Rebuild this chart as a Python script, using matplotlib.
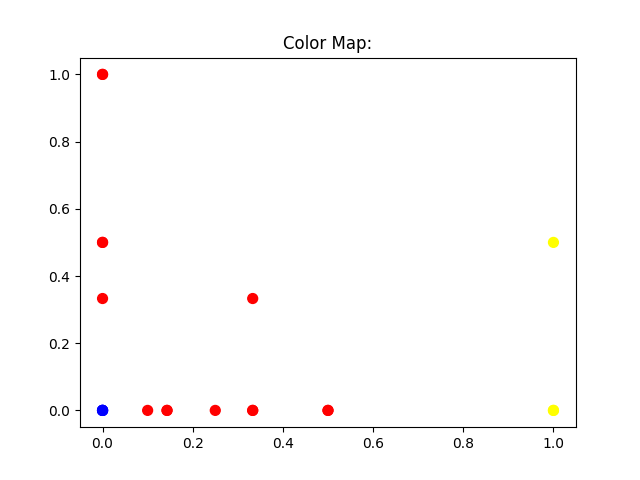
import matplotlib
matplotlib.use("Agg")
import matplotlib.pyplot as plt

x = [0, 0, 0, 0, 0, 0.1, 0.143, 0.143, 0.25, 0.333, 0.333, 0.333, 0.5, 0.5, 1.0, 1.0, 1.0, 0, 0, 0, 0]
y = [1.0, 1.0, 0.5, 0.5, 0.333, 0, 0, 0, 0, 0, 0, 0.333, 0, 0, 0.5, 0, 0, 0, 0, 0, 0]
colors = ['red', 'red', 'red', 'red', 'red', 'red', 'red', 'red', 'red', 'red', 'red', 'red',
          'red', 'red', 'yellow', 'yellow', 'yellow', 'blue', 'blue', 'blue', 'blue']

fig, ax = plt.subplots(figsize=(6.4, 4.8), dpi=100)
ax.scatter(x, y, c=colors, s=50)
ax.set_title("Color Map:")
fig.savefig("out.png")
